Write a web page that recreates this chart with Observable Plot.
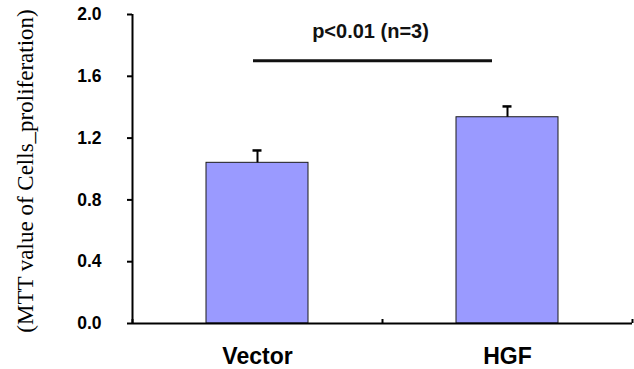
<!DOCTYPE html>
<html>
<head>
<meta charset="utf-8">
<script src="https://cdn.jsdelivr.net/npm/d3@7"></script>
<script src="https://cdn.jsdelivr.net/npm/@observablehq/plot@0.6"></script>
<style>
  html, body { margin: 0; padding: 0; background: #fff; }
</style>
</head>
<body>
<div id="chart"></div>
<script>
const categories = ["Vector", "HGF"];
const values = [1.04, 1.335];
const errors = [0.08, 0.07];
const yTicks = [0, 0.4, 0.8, 1.2, 1.6, 2.0];
const yLabel = "(MTT value of Cells_proliferation)";
const sigLabel = "p<0.01 (n=3)";
const sigLevel = 1.70;      // height of the significance line (y units)
const sigSpan = [-0.016, 0.94]; // span of the significance line (category index units)
const sigTextPos = [0.452, 1.89];

const barHalf = 0.204;
const capHalf = 0.018;
const boundaries = [-0.5, 0.5, 1.5];

const data = categories.map((c, i) => ({ cat: c, i, value: values[i], err: errors[i], top: values[i] + errors[i] }));

const chart = Plot.plot({
  width: 634,
  height: 369,
  marginLeft: 132,
  marginRight: 2,
  marginTop: 14,
  marginBottom: 46,
  style: { fontFamily: "Liberation Sans, Arial, sans-serif", background: "#fff", color: "#000" },
  x: { domain: [-0.5, 1.5] },
  y: { domain: [0, 2] },
  marks: [
    Plot.rectY(data, { x1: d => d.i - barHalf, x2: d => d.i + barHalf, y: "value", fill: "#9a9aff", stroke: "#1a1a1a", strokeWidth: 1 }),
    Plot.ruleX(data, { x: "i", y1: "value", y2: "top", stroke: "#000", strokeWidth: 2 }),
    Plot.ruleY(data, { y: "top", x1: d => d.i - capHalf, x2: d => d.i + capHalf, stroke: "#000", strokeWidth: 2.5 }),
    Plot.ruleY([sigLevel], { x1: sigSpan[0], x2: sigSpan[1], stroke: "#111", strokeWidth: 3 }),
    Plot.text([sigLabel], { x: sigTextPos[0], y: sigTextPos[1], text: d => d, fontSize: 20, fontWeight: "bold", fill: "#111" }),
    Plot.ruleX([-0.5], { y1: 0, y2: 2, stroke: "#000", strokeWidth: 2 }),
    Plot.ruleY([0], { x1: -0.5, x2: 1.5, stroke: "#000", strokeWidth: 2 }),
    Plot.ruleX(boundaries, { y1: 0, y2: 0, insetTop: -4, stroke: "#000", strokeWidth: 2 }),
    Plot.axisY({ ticks: yTicks, tickFormat: d3.format(".1f"), tickSize: 5, tickPadding: 26, fontSize: 17.5, fontWeight: "bold", label: null, stroke: "#000", strokeWidth: 2 }),
    Plot.axisX({ ticks: [0, 1], tickFormat: i => categories[i], tickSize: 0, tickPadding: 24, fontSize: 23, fontWeight: "bold", label: null }),
    Plot.text([yLabel], { frameAnchor: "left", textAnchor: "middle", dx: -107, dy: 2, rotate: -90, text: d => d, fontSize: 23, fontFamily: "Liberation Serif, Times New Roman, serif", fill: "#000" })
  ]
});
document.getElementById("chart").appendChild(chart);
</script>
</body>
</html>
